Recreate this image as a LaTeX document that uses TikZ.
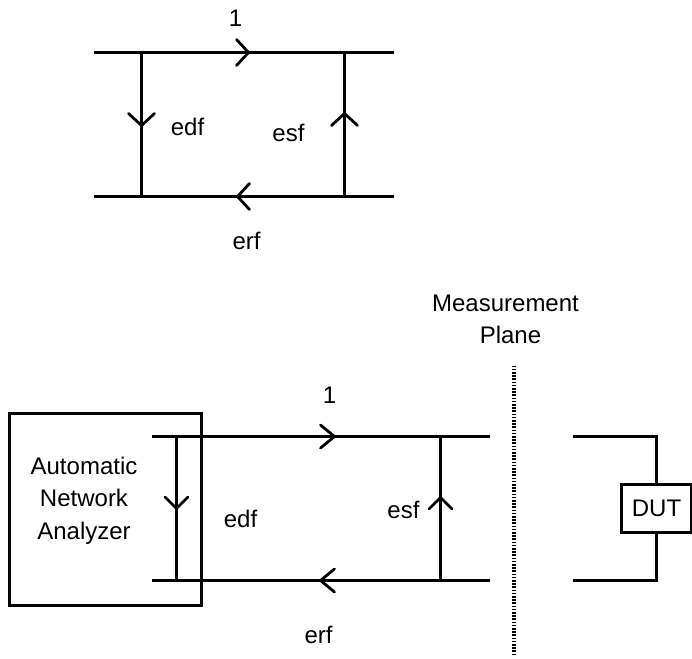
\documentclass[tikz,border=0pt]{standalone}
\usepackage{fontspec}
\setmainfont{Liberation Sans}
\tikzset{
  wire/.style={line width=3.02pt,line cap=butt,line join=miter,black},
  chevron/.style={line width=2.8pt,line cap=round,line join=miter,black},
  label/.style={anchor=base,inner sep=0pt,font=\fontsize{24}{32.5}\selectfont,align=center},
  boxed/.style={draw=black,line width=3.02pt,inner sep=0pt,font=\fontsize{24}{32.5}\selectfont,align=center},
  planeline/.style={line width=4pt,black,dash pattern=on 1.7pt off 1.5pt},
}
\begin{document}
\begin{tikzpicture}[x=1pt,y=-1pt]
\useasboundingbox (-0.5,-0.5) rectangle (691.5,657.5);
% ---------- upper graph ----------
\coordinate (tl) at (93,52);   \coordinate (tr) at (393,52);
\coordinate (bl) at (93,196);  \coordinate (br) at (393,196);
\coordinate (ta) at (141,52);  \coordinate (ba) at (141,196);
\coordinate (tb) at (344,52);  \coordinate (bb) at (344,196);
\draw[wire] (tl) -- (tr);
\draw[wire] (bl) -- (br);
\draw[wire] (ta) -- (ba);
\draw[wire] (tb) -- (bb);
\coordinate (c1) at (248,52);  \coordinate (c2) at (237,196);
\coordinate (c3) at (141,125); \coordinate (c4) at (344,113);
\draw[chevron] ([shift={(-12,-13)}]c1) -- (c1) -- ([shift={(-12,13)}]c1);
\draw[chevron] ([shift={(12,-13)}]c2) -- (c2) -- ([shift={(12,13)}]c2);
\draw[chevron] ([shift={(-13,-12)}]c3) -- (c3) -- ([shift={(13,-12)}]c3);
\draw[chevron] ([shift={(-13,12)}]c4) -- (c4) -- ([shift={(13,12)}]c4);
\node[label] (one1) at (235,26) {1};
\node[label] (edf1) at (187,135) {edf};
\node[label] (esf1) at (288,141) {esf};
\node[label] (erf1) at (246,249) {erf};
% ---------- lower graph ----------
\node[boxed,minimum width=192pt,minimum height=192pt] (ana) at (105,509) {};
\node[inner sep=0pt,font=\fontsize{24}{32.5}\selectfont,align=center] (analabel) at (83.5,500) {Automatic\\Network\\Analyzer};
\coordinate (ltl) at (151,436); \coordinate (ltr) at (489,436);
\coordinate (lbl) at (151,580); \coordinate (lbr) at (489,580);
\coordinate (la) at (176,436);  \coordinate (lab) at (176,580);
\coordinate (lc) at (440,436);  \coordinate (lcb) at (440,580);
\draw[wire] (ltl) -- (ltr);
\draw[wire] (lbl) -- (lbr);
\draw[wire] (la) -- (lab);
\draw[wire] (lc) -- (lcb);
\coordinate (d1) at (334,436); \coordinate (d2) at (320,580);
\coordinate (d3) at (176,508); \coordinate (d4) at (440,497);
\draw[chevron] ([shift={(-14,-11.5)}]d1) -- (d1) -- ([shift={(-14,11.5)}]d1);
\draw[chevron] ([shift={(14,-11.5)}]d2) -- (d2) -- ([shift={(14,11.5)}]d2);
\draw[chevron] ([shift={(-11.5,-11.5)}]d3) -- (d3) -- ([shift={(11.5,-11.5)}]d3);
\draw[chevron] ([shift={(-11.5,11.5)}]d4) -- (d4) -- ([shift={(11.5,11.5)}]d4);
\node[label] (one2) at (329,403) {1};
\node[label] (edf2) at (240,527) {edf};
\node[label] (esf2) at (403,518) {esf};
\node[label] (erf2) at (318,643) {erf};
% ---------- measurement plane ----------
\node[label] (mp) at (505,311) {Measurement};
\node[label] (pl) at (510,343) {Plane};
\coordinate (pt) at (513,365); \coordinate (pb) at (513,654);
\draw[planeline] (pt) -- (pb);
% ---------- DUT ----------
\node[boxed,minimum width=70pt,minimum height=48pt] (dut) at (656,508) {DUT};
\coordinate (rt) at (572,436); \coordinate (rtc) at (656,436);
\coordinate (rb) at (572,580); \coordinate (rbc) at (656,580);
\draw[wire] (rt) -- (rtc) -- (dut.north);
\draw[wire] (rb) -- (rbc) -- (dut.south);
\end{tikzpicture}
\end{document}
